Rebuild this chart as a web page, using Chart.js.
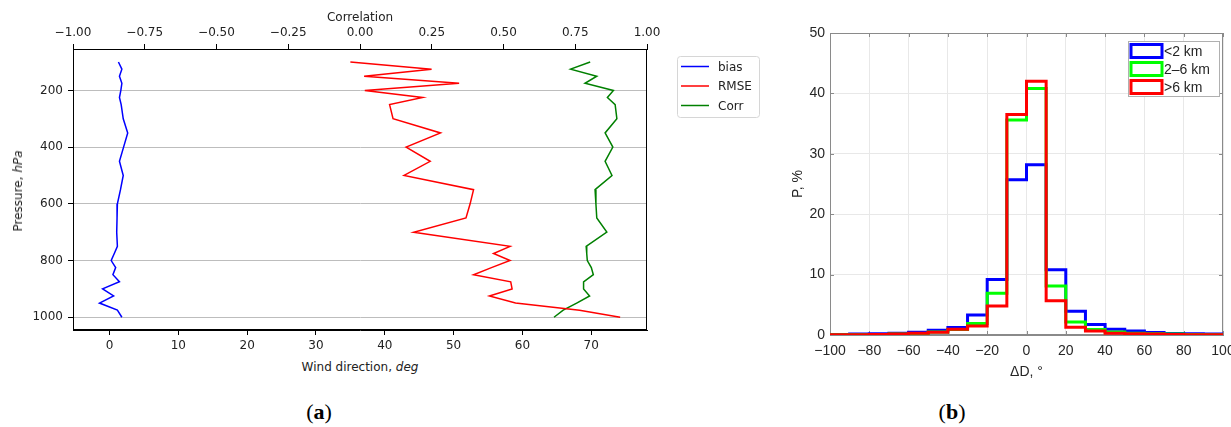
<!DOCTYPE html>
<html>
<head>
<meta charset="utf-8">
<script src="https://cdn.jsdelivr.net/npm/chart.js@4.4.1/dist/chart.umd.min.js"></script>
<style>
    body { margin: 0; width: 1231px; height: 427px; background: #fff; position: relative; overflow: hidden; }
    .panel { position: absolute; top: 0; }
    .lbl { position: absolute; white-space: nowrap; transform: translate(-50%, -50%); color: #222; }
    .axis-a { font: 12px 'DejaVu Sans', sans-serif; }
    .caption { font: 22px 'Liberation Serif', serif; color: #000; }
</style>
</head>
<body>
<div class="panel" style="left:0; width:780px; height:360px;"><canvas id="chartA" width="780" height="360"></canvas></div>
<div class="panel" style="left:780px; width:451px; height:390px;"><canvas id="chartB" width="451" height="390"></canvas></div>

<div class="lbl axis-a" style="left:18px; top:191px; transform: translate(-50%, -50%) rotate(-90deg);">Pressure, <i>hPa</i></div>
<div class="lbl axis-a" style="left:360px; top:367px;">Wind direction, <i>deg</i></div>
<div class="lbl caption" style="left:319px; top:412px;">(<b>a</b>)</div>
<div class="lbl caption" style="left:952px; top:412px;">(<b>b</b>)</div>

<script>
// ========================================
// DATA - panel (a)
// ========================================
const PRESSURE = [100, 125, 150, 175, 200, 225, 250, 300, 350, 400, 450, 500, 550, 600,
                  650, 700, 750, 775, 800, 825, 850, 875, 900, 925, 950, 975, 1000];
const BIAS = [1.3, 1.8, 1.45, 1.8, 1.65, 1.45, 1.7, 2.0, 2.65, 2.05, 1.45, 2.0, 1.6, 1.15,
              1.1, 1.05, 1.15, 0.7, 0.25, 0.9, 0.5, 1.45, -1.0, 0.6, -1.45, 1.15, 1.8];
const RMSE = [35.0, 46.8, 37.0, 50.8, 37.1, 45.5, 40.7, 41.2, 48.1, 43.1, 46.6, 42.8, 52.9, 52.4,
              51.8, 44.2, 58.2, 55.8, 58.2, 55.5, 52.9, 58.3, 58.5, 55.2, 59.0, 68.3, 74.2];
const CORR = [0.802, 0.734, 0.825, 0.784, 0.883, 0.862, 0.889, 0.895, 0.854, 0.881, 0.854, 0.878, 0.819, 0.822,
              0.825, 0.860, 0.788, 0.790, 0.792, 0.806, 0.813, 0.779, 0.779, 0.800, 0.755, 0.708, 0.676];

const WIND_TICKS = [0, 10, 20, 30, 40, 50, 60, 70];
const CORR_TICKS = [-1, -0.75, -0.5, -0.25, 0, 0.25, 0.5, 0.75, 1];
const PRESSURE_TICKS = [200, 400, 600, 800, 1000];

// ========================================
// DATA - panel (b)
// ========================================
const BIN_EDGES = [-100, -90, -80, -70, -60, -50, -40, -30, -20, -10, 0,
                   10, 20, 30, 40, 50, 60, 70, 80, 90, 100];
const P_LOW  = [0.1, 0.15, 0.2, 0.3, 0.45, 0.8, 1.25, 3.3, 9.2, 25.7, 28.2, 10.8, 3.95, 1.75, 0.95, 0.65, 0.4, 0.25, 0.2, 0.15];
const P_MID  = [0.05, 0.05, 0.1, 0.15, 0.25, 0.5, 0.9, 1.9, 6.9, 35.6, 40.8, 8.1, 2.15, 0.9, 0.5, 0.3, 0.2, 0.15, 0.1, 0.05];
const P_HIGH = [0.05, 0.05, 0.1, 0.15, 0.3, 0.45, 0.95, 1.5, 4.8, 36.5, 42.0, 5.65, 1.3, 0.65, 0.3, 0.2, 0.15, 0.1, 0.05, 0.05];
const HIST_LABELS = ['<2 km', '2\u20136 km', '>6 km'];

const DD_TICKS = [-100, -80, -60, -40, -20, 0, 20, 40, 60, 80, 100];
const P_TICKS = [0, 10, 20, 30, 40, 50];

// ========================================
// HELPERS
// ========================================
const FONT_A = { family: "'DejaVu Sans', sans-serif", size: 12 };
const FONT_B = { family: "'Liberation Sans', Arial, sans-serif", size: 14 };

function minus(v, digits) {
    const s = Math.abs(v).toFixed(digits);
    return v < 0 ? '\u2212' + s : s;
}

function fixedTicks(list) {
    return function(scale) {
        scale.ticks = list.map(v => ({ value: v }));
    };
}

// fixed box size, no extra room for overhanging edge labels
function boxSize(w, h) {
    return function(scale) {
        if (w !== null) scale.width = w;
        if (h !== null) scale.height = h;
        scale.paddingLeft = 0;
        scale.paddingRight = 0;
        scale.paddingTop = 0;
        scale.paddingBottom = 0;
    };
}

function profile(values) {
    return PRESSURE.map((p, i) => ({ x: values[i], y: p }));
}

// histogram outline: one point per bin edge, last bin repeated at right edge
function stairs(values) {
    return BIN_EDGES.map((e, i) => ({ x: e, y: values[Math.min(i, values.length - 1)] }));
}

// box around the plot area (+ optional inward ticks, matlab style)
const framePlugin = {
    id: 'frame',
    beforeDatasetsDraw(chart, args, opts) {
        const a = chart.chartArea;
        const ctx = chart.ctx;
        ctx.save();
        ctx.strokeStyle = opts.color;
        ctx.lineWidth = 1;
        ctx.strokeRect(a.left + 0.5, a.top + 0.5, a.right - a.left - 1, a.bottom - a.top - 1);
        if (opts.innerTicks) {
            const xs = chart.scales.x, ys = chart.scales.y;
            ctx.beginPath();
            xs.ticks.forEach(t => {
                const px = Math.round(xs.getPixelForValue(t.value)) + 0.5;
                ctx.moveTo(px, a.bottom); ctx.lineTo(px, a.bottom - 4);
                ctx.moveTo(px, a.top); ctx.lineTo(px, a.top + 4);
            });
            ys.ticks.forEach(t => {
                const py = Math.round(ys.getPixelForValue(t.value)) + 0.5;
                ctx.moveTo(a.left, py); ctx.lineTo(a.left + 4, py);
                ctx.moveTo(a.right, py); ctx.lineTo(a.right - 4, py);
            });
            ctx.stroke();
        }
        ctx.restore();
    }
};

// ========================================
// LEGENDS
// ========================================
const legendA = {
    id: 'legendA',
    afterDraw(chart) {
        const a = chart.chartArea;
        const ctx = chart.ctx;
        const x0 = a.right + 30, y0 = a.top + 7;
        ctx.save();
        ctx.beginPath();
        ctx.roundRect(x0 + 0.5, y0 + 0.5, 82, 61, 3);
        ctx.fillStyle = 'rgba(255,255,255,0.8)';
        ctx.fill();
        ctx.strokeStyle = '#d6d6d6';
        ctx.lineWidth = 1;
        ctx.stroke();
        ctx.font = "12px 'DejaVu Sans', sans-serif";
        ctx.textBaseline = 'middle';
        chart.data.datasets.forEach((ds, i) => {
            const y = y0 + 10.5 + i * 19.5;
            ctx.strokeStyle = ds.borderColor;
            ctx.lineWidth = 1.5;
            ctx.beginPath();
            ctx.moveTo(x0 + 4, y);
            ctx.lineTo(x0 + 32, y);
            ctx.stroke();
            ctx.fillStyle = '#222';
            ctx.fillText(ds.label, x0 + 41, y + 1);
        });
        ctx.restore();
    }
};

const legendB = {
    id: 'legendB',
    afterDraw(chart) {
        const a = chart.chartArea;
        const ctx = chart.ctx;
        const x0 = a.right - 95, y0 = a.top + 8;
        ctx.save();
        ctx.fillStyle = '#fff';
        ctx.fillRect(x0, y0, 91, 55);
        ctx.strokeStyle = '#b0b0b0';
        ctx.lineWidth = 1;
        ctx.strokeRect(x0 + 0.5, y0 + 0.5, 91, 55);
        ctx.font = "14px 'Liberation Sans', Arial, sans-serif";
        ctx.textBaseline = 'middle';
        chart.data.datasets.forEach((ds, i) => {
            const cy = y0 + 10 + i * 18;
            ctx.strokeStyle = ds.borderColor;
            ctx.lineWidth = 3;
            ctx.strokeRect(x0 + 3, cy - 6.5, 31, 13);
            ctx.fillStyle = '#262626';
            ctx.fillText(ds.label, x0 + 36, cy + 1.5);
        });
        ctx.restore();
    }
};

// ========================================
// PANEL (a): profiles
// ========================================
function criarPainelA() {
    new Chart(document.getElementById('chartA'), {
        type: 'line',
        data: {
            datasets: [
                { label: 'bias', data: profile(BIAS), borderColor: '#0000ff', xAxisID: 'x', yAxisID: 'y' },
                { label: 'RMSE', data: profile(RMSE), borderColor: '#ff0000', xAxisID: 'x', yAxisID: 'y' },
                { label: 'Corr', data: profile(CORR), borderColor: '#008000', xAxisID: 'x2', yAxisID: 'y' }
            ].map(ds => ({ ...ds, borderWidth: 1.5, pointRadius: 0, tension: 0, fill: false }))
        },
        options: {
            responsive: false,
            animation: false,
            devicePixelRatio: 1,
            layout: { padding: { left: 0, top: 0, right: 133, bottom: 0 } },
            plugins: {
                legend: { display: false },
                tooltip: { enabled: false },
                frame: { color: '#000' }
            },
            scales: {
                x: {
                    type: 'linear', position: 'bottom', min: -5.3, max: 78.1,
                    afterBuildTicks: fixedTicks(WIND_TICKS),
                    afterFit: boxSize(null, 30),
                    grid: { drawOnChartArea: false, tickLength: 5, tickColor: '#000' },
                    border: { color: '#000' },
                    ticks: { font: FONT_A, color: '#222', padding: 4, maxRotation: 0, autoSkip: false,
                             callback: v => minus(v, 0) }
                },
                x2: {
                    type: 'linear', position: 'top', min: -1, max: 1,
                    afterBuildTicks: fixedTicks(CORR_TICKS),
                    afterFit: boxSize(null, 49),
                    grid: { drawOnChartArea: false, tickLength: 5, tickColor: '#000' },
                    border: { color: '#000' },
                    ticks: { font: FONT_A, color: '#222', padding: 4, maxRotation: 0, autoSkip: false,
                             callback: v => minus(v, 2) },
                    title: { display: true, text: 'Correlation', font: FONT_A, color: '#222',
                             padding: { top: 11, bottom: 0 } }
                },
                y: {
                    type: 'linear', reverse: true, min: 54, max: 1045,
                    afterBuildTicks: fixedTicks(PRESSURE_TICKS),
                    afterFit: boxSize(73, null),
                    grid: { color: '#bdbdbd', lineWidth: 1, tickLength: 5, tickColor: '#000' },
                    border: { color: '#000' },
                    ticks: { font: FONT_A, color: '#222', padding: 5, autoSkip: false,
                             callback: v => String(v) }
                }
            }
        },
        plugins: [framePlugin, legendA]
    });
}

// ========================================
// PANEL (b): histograms
// ========================================
function criarPainelB() {
    new Chart(document.getElementById('chartB'), {
        type: 'line',
        data: {
            datasets: [
                { label: HIST_LABELS[0], data: stairs(P_LOW),  borderColor: '#0000ff', order: 3 },
                { label: HIST_LABELS[1], data: stairs(P_MID),  borderColor: '#00ff00', order: 2 },
                { label: HIST_LABELS[2], data: stairs(P_HIGH), borderColor: '#ff0000', order: 1 }
            ].map(ds => ({ ...ds, borderWidth: 3, pointRadius: 0, stepped: true, fill: false }))
        },
        options: {
            responsive: false,
            animation: false,
            devicePixelRatio: 1,
            layout: { padding: { left: 0, top: 33, right: 8, bottom: 0 } },
            plugins: {
                legend: { display: false },
                tooltip: { enabled: false },
                frame: { color: '#8a8a8a', innerTicks: true }
            },
            scales: {
                x: {
                    type: 'linear', min: -100, max: 100,
                    afterBuildTicks: fixedTicks(DD_TICKS),
                    afterFit: boxSize(null, 55),
                    grid: { color: '#e8e8e8', drawTicks: false },
                    border: { color: '#8a8a8a' },
                    ticks: { font: FONT_B, color: '#262626', padding: 8, maxRotation: 0, autoSkip: false,
                             callback: v => minus(v, 0) },
                    title: { display: true, text: '\u0394D, \u00b0', font: FONT_B, color: '#262626',
                             padding: { top: 0, bottom: 9 } }
                },
                y: {
                    type: 'linear', min: 0, max: 50,
                    afterBuildTicks: fixedTicks(P_TICKS),
                    afterFit: boxSize(50, null),
                    grid: { color: '#e8e8e8', drawTicks: false },
                    border: { color: '#8a8a8a' },
                    ticks: { font: FONT_B, color: '#262626', padding: 5, autoSkip: false },
                    title: { display: true, text: 'P, %', font: FONT_B, color: '#262626',
                             padding: { top: 10, bottom: 0 } }
                }
            }
        },
        plugins: [framePlugin, legendB]
    });
}

document.addEventListener('DOMContentLoaded', function() {
    criarPainelA();
    criarPainelB();
});
</script>
</body>
</html>
